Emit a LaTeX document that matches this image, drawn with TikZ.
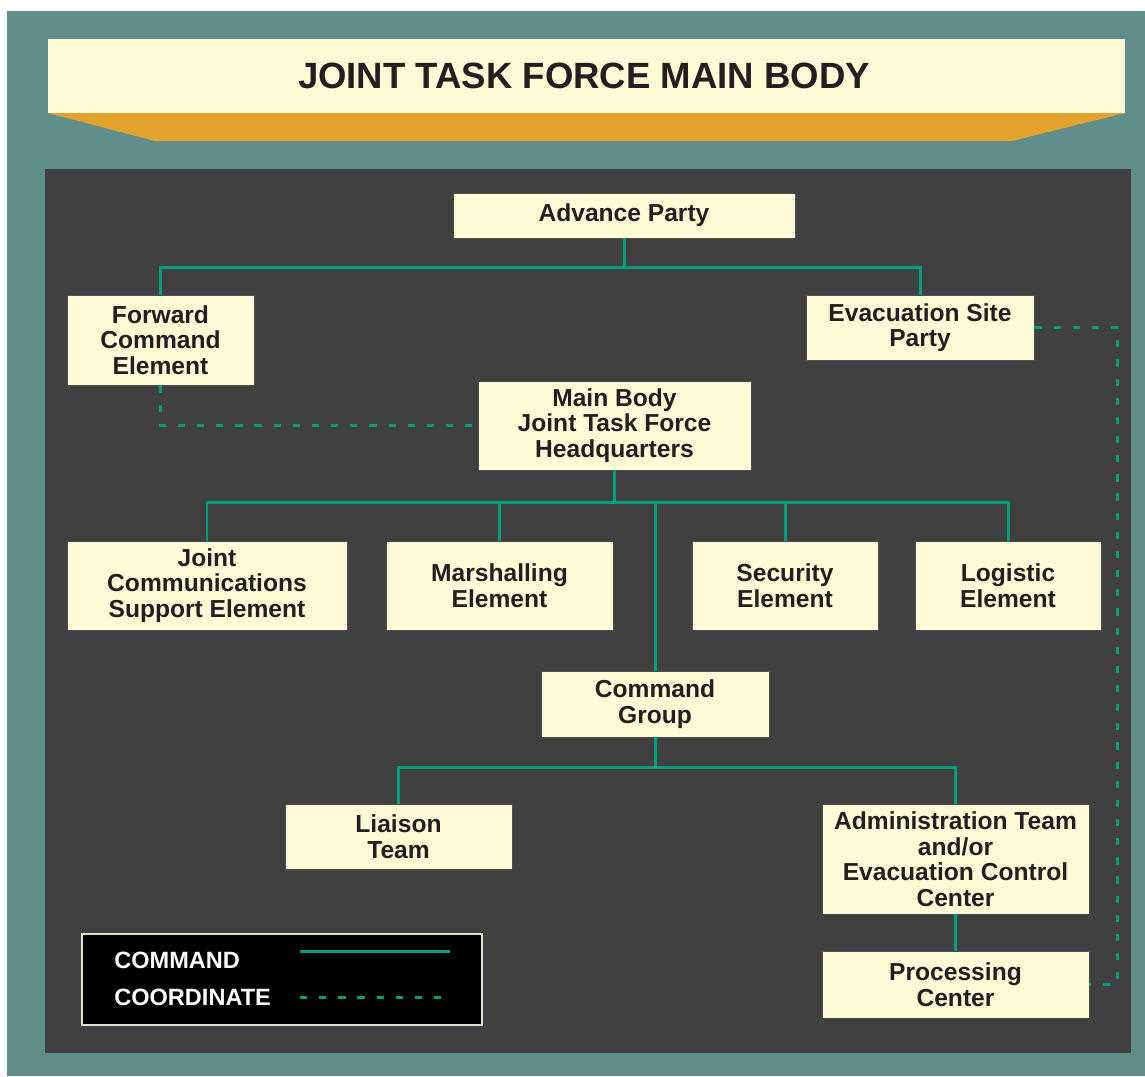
\documentclass[tikz,border=0pt]{standalone}
\usepackage{fontspec}
\setmainfont{Liberation Sans}
\usepackage{tikz}
\usetikzlibrary{calc}

\definecolor{frameteal}{HTML}{5F8E8B}
\definecolor{panelgray}{HTML}{404040}
\definecolor{boxcream}{HTML}{FFFAD6}
\definecolor{banorange}{HTML}{E2A22D}
\definecolor{linegreen}{HTML}{00A07F}
\definecolor{inkdark}{HTML}{231F20}

\begin{document}
\begin{tikzpicture}[x=0.02cm,y=-0.02cm,
	unit/.style={shape=rectangle,fill=boxcream,draw=inkdark!80,line width=0.5pt,
		text=inkdark,font=\fontsize{14}{14.5}\selectfont\bfseries,align=center,inner sep=0pt},
	cmdline/.style={-,draw=linegreen,line width=1.7pt},
	coordline/.style={-,draw=linegreen,line width=1.7pt,dash pattern=on 4.1pt off 6.8pt},
	legendtext/.style={anchor=west,inner sep=0pt,text=white,font=\fontsize{13.4}{14}\selectfont\bfseries}]
			\useasboundingbox (0,0) rectangle (1145,1076);
			\fill[white] (0,0) rectangle (1145,1076);
			\fill[frameteal] (7,11) rectangle (1145,1076);
			% title banner
			\fill[banorange] (48,113) -- (1125,113) -- (1012,141) -- (155,141) -- cycle;
			\fill[boxcream] (48,39) rectangle (1125,113);
			\node[text=inkdark,font=\fontsize{20.8}{22}\selectfont\bfseries] (T) at (584,76) {JOINT TASK FORCE MAIN BODY};
			\filldraw[fill=panelgray,draw=black!75,line width=0.6pt] (46,170) rectangle (1130,1052);
			
			\node[unit,minimum width=6.84cm,minimum height=0.9cm] (ADV) at (624,215.5) {Advance Party};
			\node[unit,minimum width=3.74cm,minimum height=1.8cm] (FWD) at (160.5,340) {Forward\\Command\\Element};
			\node[unit,minimum width=4.56cm,minimum height=1.3cm] (EVAC) at (920,327.5) {Evacuation Site\\Party};
			\node[unit,minimum width=5.46cm,minimum height=1.78cm] (MAIN) at (614.5,425.5) {Main Body\\Joint Task Force\\Headquarters};
			\node[unit,minimum width=5.6cm,minimum height=1.78cm] (JCSE) at (207,585.5) {Joint\\Communications\\Support Element};
			\node[unit,minimum width=4.54cm,minimum height=1.78cm] (MAR) at (499.5,585.5) {Marshalling\\Element};
			\node[unit,minimum width=3.72cm,minimum height=1.78cm] (SEC) at (785,585.5) {Security\\Element};
			\node[unit,minimum width=3.72cm,minimum height=1.78cm] (LOG) at (1008,585.5) {Logistic\\Element};
			\node[unit,minimum width=4.56cm,minimum height=1.32cm] (CG) at (655,704) {Command\\Group};
			\node[unit,minimum width=4.54cm,minimum height=1.3cm] (LT) at (398.5,836.5) {Liaison\\Team};
			\node[unit,minimum width=5.34cm,minimum height=2.2cm] (ADM) at (955.5,859) {Administration Team\\and/or\\Evacuation Control\\Center};
			\node[unit,minimum width=5.34cm,minimum height=1.34cm] (PC) at (955.5,984.5) {Processing\\Center};
			
			% command lines
			\draw[cmdline] (ADV.south) -- ++(0,29) coordinate (J1);
			\draw[cmdline] (FWD.north) |- (J1) -| (EVAC.north);
			\draw[cmdline] (MAIN.south) -- ++(0,32) coordinate (J2);
			\draw[cmdline] (JCSE.north) |- (J2) -| (LOG.north);
			\draw[cmdline] (MAR.north) |- (J2);
			\draw[cmdline] (SEC.north) |- (J2);
			\draw[cmdline] (CG.north) |- (J2);
			\draw[cmdline] (CG.south) -- ++(0,30) coordinate (J3);
			\draw[cmdline] (LT.north) |- (J3) -| (ADM.north);
			\path [cmdline] (ADM) edge (PC);
			
			% coordinate lines
			\draw[coordline] (FWD.south) |- (MAIN.west);
			\draw[coordline] (EVAC.east) -- ++(83,0) |- (PC.east);
			
			% legend
			\filldraw[fill=black,draw=boxcream!80!gray,line width=0.6pt] (82,934) rectangle (482,1025);
			\node[legendtext] (LCMD) at (114,960) {COMMAND};
			\node[legendtext] (LCRD) at (114,997) {COORDINATE};
			\coordinate (C1) at (300,951);
			\coordinate (C2) at (450,951);
			\coordinate (D1) at (300,997);
			\coordinate (D2) at (447,997);
			\path [cmdline] (C1) edge (C2);
			\path [coordline] (D1) edge (D2);
			\end{tikzpicture}
\end{document}
